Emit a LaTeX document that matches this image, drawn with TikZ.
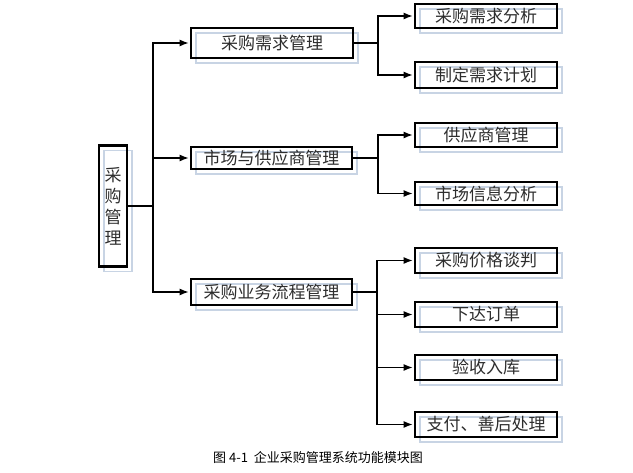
\documentclass[tikz,border=0pt]{standalone}
\usepackage{fontspec}
\newfontfamily\cjk{Noto Sans CJK SC}
\usetikzlibrary{arrows.meta}
\definecolor{shadeblue}{RGB}{200,212,228}
\definecolor{inkgray}{RGB}{45,45,45}

\begin{document}
\begin{tikzpicture}[x=1pt, y=-1pt,
  every node/.style={font=\cjk\fontsize{17}{21}\selectfont, inner sep=0pt, text=inkgray},
  box/.style={draw=black, line width=2.4pt,
    preaction={draw=shadeblue, line width=1.6pt, transform canvas={shift={(5pt,-5pt)}}}},
  link/.style={line width=1.1pt},
  arr/.style={link, -{Latex[length=9pt,width=7pt]}, shorten >=1.2pt}]
  \useasboundingbox (0,0) rectangle (633,473);

  \node[box, minimum width=28pt, minimum height=121pt, align=center] (root) at (113,206) {采\\购\\管\\理};

  \node[box, minimum width=162pt, minimum height=30pt] (m1) at (272,43) {采购需求管理};
  \node[box, minimum width=161pt, minimum height=22pt] (m2) at (271.5,158) {市场与供应商管理};
  \node[box, minimum width=161pt, minimum height=26pt] (m3) at (271.5,292) {采购业务流程管理};

  \node[box, minimum width=142pt, minimum height=24pt] (s1) at (486,16) {采购需求分析};
  \node[box, minimum width=142pt, minimum height=26pt] (s2) at (486,75) {制定需求计划};
  \node[box, minimum width=142pt, minimum height=24pt] (s3) at (486,135) {供应商管理};
  \node[box, minimum width=142pt, minimum height=23pt] (s4) at (486,193.5) {市场信息分析};
  \node[box, minimum width=142pt, minimum height=25pt] (s5) at (486,260.5) {采购价格谈判};
  \node[box, minimum width=142pt, minimum height=25pt] (s6) at (486,314.5) {下达订单};
  \node[box, minimum width=142pt, minimum height=25pt] (s7) at (486,367.5) {验收入库};
  \node[box, minimum width=142pt, minimum height=25pt] (s8) at (486,424.5) {支付、善后处理};

  \coordinate (j0) at (153,206);
  \coordinate (j1) at (378,43);
  \coordinate (j2) at (378,158);
  \coordinate (j3) at (377,292);

  \draw[link] (root.east) -- (j0);
  \draw[arr] (j0) |- (m1.west);
  \draw[arr] (j0) |- (m2.west);
  \draw[arr] (j0) |- (m3.west);

  \draw[link] (m1.east) -- (j1);
  \draw[arr] (j1) |- (s1.west);
  \draw[arr] (j1) |- (s2.west);

  \draw[link] (m2.east) -- (j2);
  \draw[arr] (j2) |- (s3.west);
  \draw[arr] (j2) |- (s4.west);

  \draw[link] (m3.east) -- (j3);
  \draw[arr] (j3) |- (s5.west);
  \draw[arr] (j3) |- (s6.west);
  \draw[arr] (j3) |- (s7.west);
  \draw[arr] (j3) |- (s8.west);

  \node[font=\cjk\fontsize{13}{15}\selectfont, text=black] (cap) at (318,458) {图 4-1\ \ 企业采购管理系统功能模块图};
\end{tikzpicture}
\end{document}
